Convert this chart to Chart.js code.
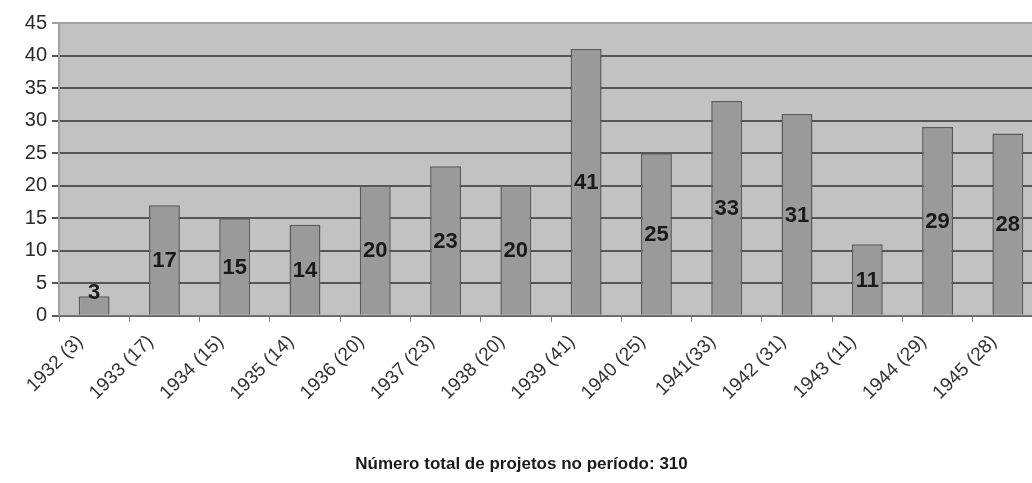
<!DOCTYPE html>
<html>
<head>
<meta charset="utf-8">
<script src="https://cdn.jsdelivr.net/npm/chart.js@4/dist/chart.umd.min.js"></script>
<style>
  html, body { margin: 0; padding: 0; background: #fff; overflow: hidden; }
  #wrap { width: 1043px; height: 483px; }
</style>
</head>
<body>
<div id="wrap"><canvas id="myChart"></canvas></div>
<script>
'use strict'

const years = ['1932 (3)', '1933 (17)', '1934 (15)', '1935 (14)', '1936 (20)', '1937 (23)', '1938 (20)',
  '1939 (41)', '1940 (25)', '1941(33)', '1942 (31)', '1943 (11)', '1944 (29)', '1945 (28)'];
const projetos = [3, 17, 15, 14, 20, 23, 20, 41, 25, 33, 31, 11, 29, 28];
const yTicks = [0, 5, 10, 15, 20, 25, 30, 35, 40, 45];
const titulo = 'Número total de projetos no período: 310';

const fontFam = '"Liberation Sans", Arial, sans-serif';

// plot background + frame
const plotBg = {
    id: 'plotBg',
    beforeDraw(chart) {
        const {ctx, chartArea: a} = chart;
        ctx.save();
        ctx.fillStyle = '#c2c2c2';
        ctx.fillRect(a.left, a.top, a.right - a.left, a.bottom - a.top);
        ctx.restore();
    },
    beforeDatasetsDraw(chart) {
        const {ctx, chartArea: a} = chart;
        ctx.save();
        ctx.strokeStyle = '#a0a0a0';
        ctx.lineWidth = 2;
        ctx.beginPath();
        ctx.moveTo(a.left, a.bottom);
        ctx.lineTo(a.left, a.top);
        ctx.lineTo(a.right, a.top);
        ctx.stroke();
        ctx.restore();
    }
};

// value labels centred in the bars
const barLabels = {
    id: 'barLabels',
    afterDatasetsDraw(chart) {
        const ctx = chart.ctx;
        const meta = chart.getDatasetMeta(0);
        ctx.save();
        ctx.font = 'bold 22px ' + fontFam;
        ctx.fillStyle = '#1a1a1a';
        ctx.textAlign = 'center';
        ctx.textBaseline = 'middle';
        meta.data.forEach((bar, i) => {
            const mid = (bar.y + bar.base) / 2;
            const y = Math.min(mid, bar.base - 23);
            ctx.fillText(projetos[i], bar.x, y + 1);
        });
        ctx.restore();
    }
};

const data = {
    labels: years,
    datasets: [{
        data: projetos,
        backgroundColor: '#9a9a9a',
        borderColor: '#5a5a5a',
        borderWidth: 1.5,
        barPercentage: 0.44,
        categoryPercentage: 1
    }]
};

const config = {
    type: 'bar',
    data: data,
    options: {
        responsive: true,
        maintainAspectRatio: false,
        animation: false,
        layout: { padding: { top: 23, left: 0, right: 0, bottom: 8 } },
        plugins: {
            legend: { display: false },
            tooltip: { enabled: false },
            title: {
                display: true,
                text: titulo,
                position: 'bottom',
                color: '#1a1a1a',
                font: { family: fontFam, size: 17, weight: 'bold', lineHeight: 1.2 },
                padding: 0
            }
        },
        scales: {
            x: {
                offset: true,
                grid: {
                    offset: true,
                    drawOnChartArea: false,
                    drawTicks: true,
                    tickLength: 6,
                    color: '#777'
                },
                border: { color: '#777', width: 1.5 },
                ticks: {
                    color: '#333',
                    minRotation: 45,
                    maxRotation: 45,
                    padding: 9,
                    labelOffset: -14,
                    font: { family: fontFam, size: 19 }
                },
                afterFit(scale) { scale.height = 138.8; }
            },
            y: {
                min: 0,
                max: 45,
                afterBuildTicks(scale) { scale.ticks = yTicks.map(v => ({value: v})); },
                grid: {
                    color: ctx => ctx.tick && ctx.tick.value === 45 ? '#a0a0a0' : '#555',
                    lineWidth: 2,
                    drawTicks: true,
                    tickLength: 7
                },
                border: { display: false },
                ticks: {
                    color: '#2a2a2a',
                    padding: 5,
                    font: { family: fontFam, size: 20 }
                },
                afterFit(scale) { scale.width = 59; }
            }
        }
    },
    plugins: [plotBg, barLabels]
};

const myChart = new Chart(document.getElementById('myChart'), config);
</script>
</body>
</html>
